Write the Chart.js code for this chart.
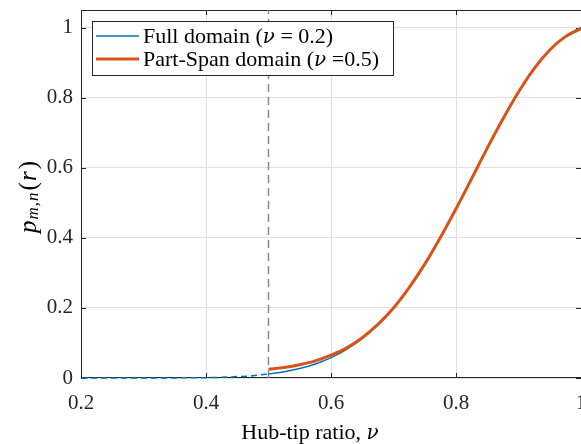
<!DOCTYPE html>
<html>
<head>
<meta charset="utf-8">
<script src="https://cdn.jsdelivr.net/npm/chart.js@4.4.1/dist/chart.umd.min.js"></script>
<style>
  html, body { margin: 0; padding: 0; background: #fff; overflow: hidden; }
  #wrap { position: relative; width: 640px; height: 444px; }
</style>
</head>
<body>
<div id="wrap"><canvas id="chart"></canvas></div>
<script>
// hub-tip ratio below the part-span hub (full domain only, dashed)
const nuLow = [0.2, 0.25, 0.3, 0.35, 0.4, 0.425, 0.45, 0.475, 0.5];
const fullLow = [0, 0, 0.0001, 0.0003, 0.001, 0.002, 0.004, 0.0065, 0.012];

// hub-tip ratio from the part-span hub up to the tip
const nuHigh = [0.5, 0.525, 0.55, 0.575, 0.6, 0.625, 0.65, 0.675, 0.7, 0.725, 0.75,
                0.775, 0.8, 0.825, 0.85, 0.875, 0.9, 0.925, 0.95, 0.975, 1.0];
const fullHigh = [0.012, 0.018, 0.027, 0.040, 0.058, 0.082, 0.113, 0.152, 0.200, 0.258, 0.325,
                  0.401, 0.483, 0.569, 0.656, 0.739, 0.816, 0.883, 0.936, 0.975, 1.0];
const partSpan = [0.025, 0.030, 0.038, 0.049, 0.065, 0.086, 0.115, 0.153, 0.200, 0.258, 0.325,
                  0.401, 0.483, 0.569, 0.656, 0.739, 0.816, 0.883, 0.936, 0.974, 0.997];

const hubTip = 0.5;
const xTicks = [0.2, 0.4, 0.6, 0.8, 1];
const yTicks = [0, 0.2, 0.4, 0.6, 0.8, 1];

const BLUE = '#0072BD';
const ORANGE = '#D95319';
const AXIS = '#262626';
const SERIF = "'Liberation Serif', 'Times New Roman', serif";
const GREEK = "'DejaVu Serif', serif";

const pts = (xs, ys) => xs.map((x, i) => ({ x, y: ys[i] }));
const fmt = v => String(Number(v.toFixed(2)));

// width of a text piece plus any extra spacing after it
function runWidth(ctx, r) {
  ctx.font = r.font;
  ctx.letterSpacing = (r.ls || 0) + 'px';
  return ctx.measureText(r.text).width + (r.gap || 0);
}

// draw a sequence of text pieces (mixed upright / italic) starting at x
function drawRunsFrom(ctx, runs, x, cy) {
  ctx.textBaseline = 'middle';
  ctx.textAlign = 'left';
  runs.forEach(r => {
    const w = runWidth(ctx, r);
    ctx.fillText(r.text, x, cy + (r.dy || 0));
    x += w;
  });
  ctx.letterSpacing = '0px';
}

// same, centred on cx
function drawRuns(ctx, runs, cx, cy) {
  const total = runs.reduce((s, r) => s + runWidth(ctx, r), 0);
  drawRunsFrom(ctx, runs, cx - total / 2, cy);
}

const framePlugin = {
  id: 'frame',
  beforeDatasetsDraw(chart) {
    const { ctx, chartArea: a, scales: { x, y } } = chart;
    ctx.save();
    ctx.strokeStyle = AXIS;
    ctx.lineWidth = 1;
    ctx.strokeRect(Math.round(a.left) + 0.5, Math.round(a.top) + 0.5,
                   Math.round(a.width), Math.round(a.height) - 1);
    ctx.beginPath();
    const t = 5;
    xTicks.forEach(v => {
      const px = Math.round(x.getPixelForValue(v)) + 0.5;
      ctx.moveTo(px, a.bottom); ctx.lineTo(px, a.bottom - t);
      ctx.moveTo(px, a.top); ctx.lineTo(px, a.top + t);
    });
    yTicks.forEach(v => {
      const py = Math.round(y.getPixelForValue(v)) + 0.5;
      ctx.moveTo(a.left, py); ctx.lineTo(a.left + t, py);
      ctx.moveTo(a.right, py); ctx.lineTo(a.right - t, py);
    });
    ctx.stroke();
    ctx.restore();
  },
  afterDraw(chart) {
    const { ctx, chartArea: a } = chart;
    const up = '22px ' + SERIF, nu = 'italic 20px ' + GREEK;
    ctx.save();
    ctx.fillStyle = '#000';

    // axis titles
    drawRuns(ctx, [
      { text: 'Hub-tip ratio, ', font: up },
      { text: 'ν', font: nu, dy: 1 }
    ], (a.left + a.right) / 2 - 21, a.bottom + 55);

    ctx.save();
    ctx.translate(29, (a.top + a.bottom) / 2 + 3);
    ctx.rotate(-Math.PI / 2);
    drawRuns(ctx, [
      { text: 'p', font: 'italic 25px ' + SERIF, gap: 1 },
      { text: 'm,n', font: 'italic 17px ' + SERIF, dy: 5, ls: 1, gap: 1 },
      { text: '(', font: '25px ' + SERIF, gap: 1 },
      { text: 'r', font: 'italic 25px ' + SERIF, gap: 2 },
      { text: ')', font: '25px ' + SERIF }
    ], 0, 0);
    ctx.restore();

    // legend box
    const lx = a.left + 11, ly = a.top + 11, lw = 301, lh = 54;
    ctx.fillStyle = '#fff';
    ctx.fillRect(lx, ly, lw, lh);
    ctx.strokeStyle = AXIS;
    ctx.lineWidth = 1;
    ctx.strokeRect(lx + 0.5, ly + 0.5, lw, lh);
    const rows = [
      { color: BLUE, width: 1.5, runs: [
        { text: 'Full domain (', font: up }, { text: 'ν', font: nu, dy: 1 }, { text: ' = 0.2)', font: up }] },
      { color: ORANGE, width: 3, runs: [
        { text: 'Part-Span domain (', font: up }, { text: 'ν', font: nu, dy: 1 }, { text: ' =0.5)', font: up }] }
    ];
    rows.forEach((row, i) => {
      const cy = ly + 15 + i * 23;
      ctx.strokeStyle = row.color;
      ctx.lineWidth = row.width;
      ctx.beginPath();
      ctx.moveTo(lx + 4, cy); ctx.lineTo(lx + 47, cy);
      ctx.stroke();
      ctx.fillStyle = '#000';
      drawRunsFrom(ctx, row.runs, lx + 51, cy + 1);
    });
    ctx.restore();
  }
};

new Chart(document.getElementById('chart'), {
  type: 'line',
  data: {
    datasets: [
      {
        label: 'Part-Span domain',
        data: pts(nuHigh, partSpan),
        borderColor: ORANGE,
        borderWidth: 3,
        order: 0
      },
      {
        label: 'Full domain',
        data: pts(nuHigh, fullHigh),
        borderColor: BLUE,
        borderWidth: 1.5,
        order: 1
      },
      {
        label: 'Full domain (below hub)',
        data: pts(nuLow, fullLow),
        borderColor: BLUE,
        borderWidth: 1.5,
        borderDash: [6, 4],
        clip: 3,
        order: 2
      },
      {
        label: 'Hub',
        data: [{ x: hubTip, y: 0 }, { x: hubTip, y: 1.05 }],
        borderColor: '#8a8a8a',
        borderWidth: 1.5,
        borderDash: [8, 5],
        cubicInterpolationMode: 'default',
        tension: 0,
        order: 3
      }
    ]
  },
  options: {
    responsive: true,
    maintainAspectRatio: false,
    animation: false,
    events: [],
    layout: { padding: { top: 10, right: 59, left: 0, bottom: 0 } },
    elements: {
      point: { radius: 0 },
      line: { cubicInterpolationMode: 'monotone', fill: false }
    },
    plugins: { legend: { display: false }, tooltip: { enabled: false } },
    scales: {
      x: {
        type: 'linear',
        min: 0.2,
        max: 1,
        afterBuildTicks: s => { s.ticks = xTicks.map(v => ({ value: v })); },
        afterFit: s => { s.height = 66; s.paddingLeft = 0; s.paddingRight = 0; },
        grid: { color: '#dfdfdf', drawTicks: false },
        border: { display: false },
        ticks: {
          color: '#262626',
          font: { family: SERIF, size: 21 },
          padding: 13,
          maxRotation: 0,
          callback: v => fmt(v)
        }
      },
      y: {
        type: 'linear',
        min: 0,
        max: 1.05,
        afterBuildTicks: s => { s.ticks = yTicks.map(v => ({ value: v })); },
        afterFit: s => { s.width = 81; s.paddingTop = 0; s.paddingBottom = 0; },
        grid: { color: '#dfdfdf', drawTicks: false },
        border: { display: false },
        ticks: {
          color: '#262626',
          font: { family: SERIF, size: 21 },
          padding: 8,
          callback: v => fmt(v)
        }
      }
    }
  },
  plugins: [framePlugin]
});
</script>
</body>
</html>
